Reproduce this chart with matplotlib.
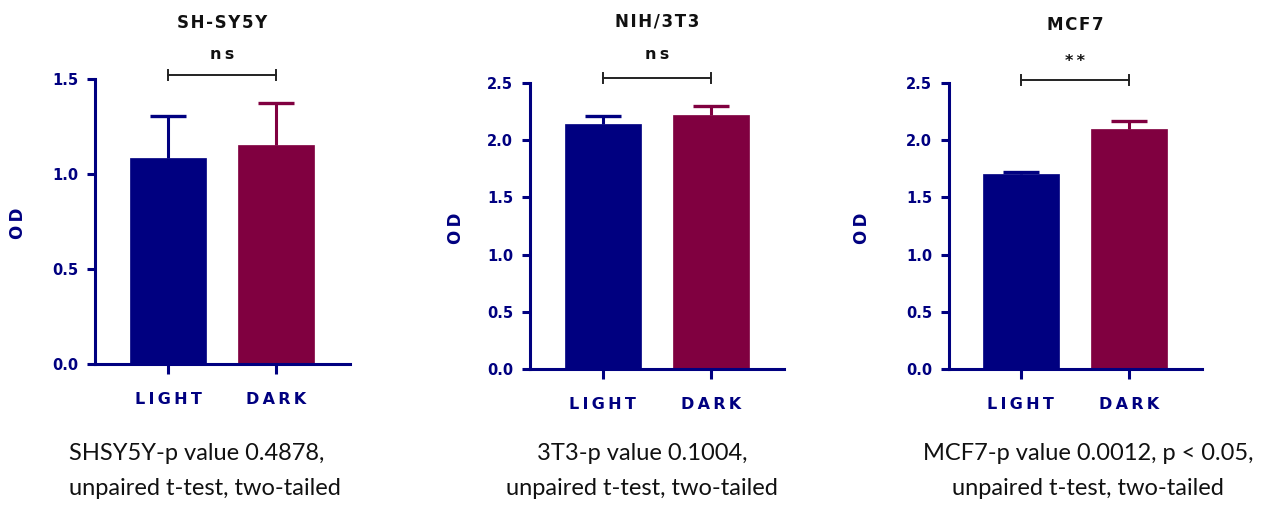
import matplotlib
matplotlib.use("Agg")
import matplotlib.pyplot as plt

# ---- data ----
panel_titles = ["SH-SY5Y", "NIH/3T3", "MCF7"]
groups = ["LIGHT", "DARK"]
shsy5y_mean = [1.084, 1.153]
shsy5y_err = [0.221, 0.221]
nih3t3_mean = [2.14, 2.217]
nih3t3_err = [0.07, 0.085]
mcf7_mean = [1.705, 2.098]
mcf7_err = [0.015, 0.07]
y_max = [1.5, 2.5, 2.5]
y_ticks_1 = [0.0, 0.5, 1.0, 1.5]
y_ticks_23 = [0.0, 0.5, 1.0, 1.5, 2.0, 2.5]
sig_labels = ["ns", "ns", "**"]
notes = ["SHSY5Y-p value 0.4878,\nunpaired t-test, two-tailed",
         "3T3-p value 0.1004,\nunpaired t-test, two-tailed",
         "MCF7-p value 0.0012, p < 0.05,\nunpaired t-test, two-tailed"]

NAVY = "#000080"
MAROON = "#800040"
W, H = 1273, 505
DV = ['DejaVu Sans']

fig = plt.figure(figsize=(W / 100, H / 100), dpi=100)

def px_axes(left, right, top, bottom):
    return fig.add_axes([left / W, 1 - bottom / H, (right - left) / W, (bottom - top) / H])

# pixel geometry: (left, right, top, bottom, x_center_first_bar, bar spacing)
geo = [(95, 350, 79, 364, 168, 108),
       (530, 784, 83, 369, 602.5, 108.5),
       (949, 1202, 83, 369, 1020.5, 108.5)]
means = [shsy5y_mean, nih3t3_mean, mcf7_mean]
errs = [shsy5y_err, nih3t3_err, mcf7_err]
ticks = [y_ticks_1, y_ticks_23, y_ticks_23]
sig_y = [1.52, 2.54, 2.53]
sig_txt_y = [1.63, 2.75, 2.69]
title_y = [23, 21, 25]
od_x = [18, 456, 862]
od_y = [223, 228, 228]
note_pos = [(69, 'left'), (642, 'center'), (1088, 'center')]

def spaced(s, sp="\u2009"):
    return sp.join(list(s))

for i in range(3):
    left, right, top, bottom, xc, dx = geo[i]
    ax = px_axes(left, right, top, bottom)
    xs = [0, 1]
    colors = [NAVY, MAROON]
    ax.bar(xs, means[i], width=76 / dx, color=colors, edgecolor=colors, linewidth=0.5, zorder=2)
    cap_half = 18 / dx
    for x, m, e, c in zip(xs, means[i], errs[i], colors):
        ax.vlines(x, m, m + e, color=c, lw=2.2, zorder=1)
        ax.hlines(m + e, x - cap_half, x + cap_half, color=c, lw=2.4, zorder=1)
    ax.set_xlim((left - xc) / dx, (right - xc) / dx)
    ax.set_ylim(0, y_max[i])
    for s in ["top", "right"]:
        ax.spines[s].set_visible(False)
    for s in ["left", "bottom"]:
        ax.spines[s].set_color(NAVY)
        ax.spines[s].set_linewidth(2.2)
    ax.set_yticks(ticks[i])
    ax.set_yticklabels([f"{t:.1f}" for t in ticks[i]], fontsize=10.5,
                       fontweight='bold', color=NAVY, family=DV)
    ax.set_xticks(xs)
    ax.set_xticklabels([spaced(g, "\u2009") for g in groups], fontsize=11.5,
                       fontweight='bold', color=NAVY, family=DV)
    ax.tick_params(axis='y', direction='out', length=6, width=2.2, color=NAVY, pad=6)
    ax.tick_params(axis='x', direction='out', length=7, width=2.2, color=NAVY, pad=13)
    # significance bracket
    ax.plot([0, 1], [sig_y[i]] * 2, color="#222222", lw=1.4, clip_on=False)
    half = 5 / ((bottom - top) / y_max[i])
    for x in xs:
        ax.plot([x, x], [sig_y[i] - half, sig_y[i] + half],
                color="#222222", lw=1.4, clip_on=False)
    ax.text(0.5, sig_txt_y[i], spaced(sig_labels[i], "\u2009"), ha='center', va='center',
            fontsize=11.5, fontweight='bold', color="#111111", clip_on=False, family=DV)
    # title
    fig.text(((left + right) / 2) / W, 1 - title_y[i] / H, spaced(panel_titles[i], "\u200a"),
             ha='center', va='center', fontsize=12, fontweight='bold', color="#111111",
             family=DV)
    # y label
    fig.text(od_x[i] / W, 1 - od_y[i] / H, spaced("OD", "\u2009"), rotation=90,
             ha='center', va='center', fontsize=12, fontweight='bold', color=NAVY,
             family=DV)
    # note
    nx, al = note_pos[i]
    fig.text(nx / W, 1 - 471 / H, notes[i], ha=al, va='center',
             multialignment='center' if al == 'center' else 'left',
             fontsize=17, color="#111111", linespacing=1.88,
             family=['Lato', 'DejaVu Sans'])

fig.savefig("out.png", dpi=100)
